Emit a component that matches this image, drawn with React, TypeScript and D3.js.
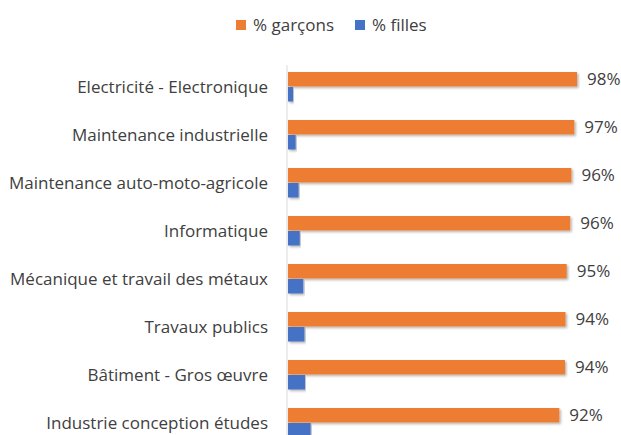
import React, { useEffect, useRef } from "react";
import * as d3 from "d3";

const categories = [
  "Electricité - Electronique",
  "Maintenance industrielle",
  "Maintenance auto-moto-agricole",
  "Informatique",
  "Mécanique et travail des métaux",
  "Travaux publics",
  "Bâtiment - Gros œuvre",
  "Industrie conception études",
];
const garcons = [98.3, 97.4, 96.4, 96.0, 94.8, 94.4, 94.2, 92.3];
const filles = [1.7, 2.6, 3.6, 4.0, 5.2, 5.6, 5.8, 7.7];
const seriesNames = ["% garçons", "% filles"];
const colors = ["#ED7D31", "#4472C4"];

const width = 621;
const height = 435;
const font = "'Open Sans', sans-serif";

const App: React.FC = () => {
  const ref = useRef<SVGSVGElement>(null);

  useEffect(() => {
    if (!ref.current) return;
    const svg = d3.select(ref.current);
    svg.selectAll("*").remove();

    const defs = svg.append("defs");
    const f = defs
      .append("filter")
      .attr("id", "shadow")
      .attr("x", "-5%")
      .attr("y", "-30%")
      .attr("width", "110%")
      .attr("height", "180%");
    f.append("feDropShadow")
      .attr("dx", 1.5)
      .attr("dy", 1.5)
      .attr("stdDeviation", 1.2)
      .attr("flood-color", "#000")
      .attr("flood-opacity", 0.3);

    const x = d3.scaleLinear().domain([0, 100]).range([288, 582]);
    const y = d3
      .scaleBand()
      .domain(categories)
      .range([63, 63 + categories.length * 48])
      .paddingInner(0.375)
      .paddingOuter(0.1875);
    const sub = d3
      .scaleBand()
      .domain(seriesNames)
      .range([0, y.bandwidth()]);

    const rows = categories.map((c, i) => ({ c, vals: [garcons[i], filles[i]] }));

    // axis line
    svg
      .append("line")
      .attr("x1", x(0) - 1)
      .attr("x2", x(0) - 1)
      .attr("y1", 65)
      .attr("y2", height)
      .attr("stroke", "#D9D9D9")
      .attr("stroke-width", 1);

    const g = svg
      .selectAll(".row")
      .data(rows)
      .join("g")
      .attr("class", "row")
      .attr("transform", (d) => `translate(0,${y(d.c)})`);

    g.selectAll("rect")
      .data((d) => d.vals.map((v, j) => ({ v, s: seriesNames[j], j })))
      .join("rect")
      .attr("x", x(0))
      .attr("y", (d) => sub(d.s) as number)
      .attr("width", (d) => x(d.v) - x(0))
      .attr("height", sub.bandwidth() - 0.5)
      .attr("fill", (d) => colors[d.j])
      .attr("filter", "url(#shadow)");

    // labels for garçons
    g.append("text")
      .attr("x", (d) => x(d.vals[0]) + 10)
      .attr("y", (sub(seriesNames[0]) as number) + sub.bandwidth() / 2)
      .attr("dy", "0.35em")
      .attr("font-family", font)
      .attr("font-size", 17)
      .attr("fill", "#404040")
      .text((d) => d3.format(".0f")(d.vals[0]) + "%");

    // category labels
    svg
      .append("g")
      .selectAll("text")
      .data(categories)
      .join("text")
      .attr("x", 268)
      .attr("y", (d) => (y(d) as number) + y.bandwidth() / 2)
      .attr("dy", "0.35em")
      .attr("text-anchor", "end")
      .attr("font-family", font)
      .attr("font-size", 17)
      .attr("fill", "#404040")
      .text((d) => d);

    // legend
    const legendX = [236, 355];
    const lg = svg
      .append("g")
      .selectAll("g")
      .data(seriesNames)
      .join("g")
      .attr("transform", (d, i) => `translate(${legendX[i]},20)`);
    lg.append("rect")
      .attr("width", 10)
      .attr("height", 10)
      .attr("fill", (d, i) => colors[i]);
    lg.append("text")
      .attr("x", 17)
      .attr("y", 5)
      .attr("dy", "0.35em")
      .attr("font-family", font)
      .attr("font-size", 17)
      .attr("fill", "#404040")
      .text((d) => d);
  }, []);

  return (
    <div style={{ position: "absolute", top: 0, left: 0 }}>
      <svg ref={ref} width={width} height={height} style={{ display: "block", background: "#fff" }} />
    </div>
  );
};

export default App;
